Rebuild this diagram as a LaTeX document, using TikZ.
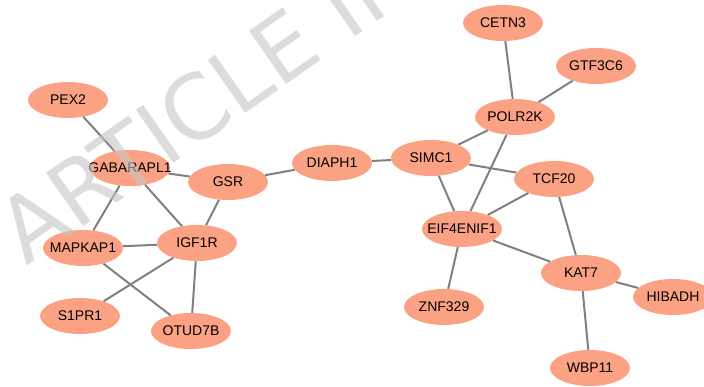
\documentclass[tikz,border=0pt]{standalone}
\usepackage{fontspec}
\setmainfont{Liberation Sans}
\newfontfamily\wmfont{DejaVu Sans}
\usetikzlibrary{shapes.geometric}
\definecolor{genefill}{RGB}{251,162,132}
\definecolor{edgegray}{RGB}{128,128,128}
\definecolor{wmgray}{RGB}{197,197,197}

\begin{document}
\begin{tikzpicture}[x=1pt, y=-1pt,
    gene/.style={ellipse, fill=genefill, minimum width=80pt, minimum height=36pt,
      inner sep=0pt, font=\fontsize{14}{16}\selectfont,
      execute at begin node={\hbox to 0pt\bgroup\hss},
      execute at end node={\hss\egroup}},
    link/.style={draw=edgegray, line width=2pt},
    wm/.style={text=wmgray, opacity=0.6, inner sep=0pt,
      font=\wmfont\fontsize{89}{89}\selectfont}]
    \useasboundingbox (0,0) rectangle (704,387);

    % left cluster
    \node[gene] (pex2) at (68,100) {PEX2};
    \node[gene] (gabarapl1) at (130,168) {GABARAPL1};
    \node[gene] (gsr) at (228,182) {GSR};
    \node[gene] (diaph1) at (332,163) {DIAPH1};
    \node[gene] (igf1r) at (197,243) {IGF1R};
    \node[gene] (mapkap1) at (83,248) {MAPKAP1};
    \node[gene] (s1pr1) at (80,316) {S1PR1};
    \node[gene] (otud7b) at (191,331) {OTUD7B};

    % right cluster
    \node[gene] (cetn3) at (503,23) {CETN3};
    \node[gene] (gtf3c6) at (596,66) {GTF3C6};
    \node[gene] (polr2k) at (515,117) {POLR2K};
    \node[gene] (simc1) at (431,158) {SIMC1};
    \node[gene] (tcf20) at (554,179) {TCF20};
    \node[gene] (eif4enif1) at (462,229) {EIF4ENIF1};
    \node[gene] (kat7) at (581,273) {KAT7};
    \node[gene] (hibadh) at (673,297) {HIBADH};
    \node[gene] (znf329) at (444,307) {ZNF329};
    \node[gene] (wbp11) at (590,368) {WBP11};

    \draw[link] (pex2) -- (gabarapl1);
    \draw[link] (gabarapl1) -- (gsr);
    \draw[link] (gabarapl1) -- (mapkap1);
    \draw[link] (gabarapl1) -- (igf1r);
    \draw[link] (gsr) -- (igf1r);
    \draw[link] (gsr) -- (diaph1);
    \draw[link] (diaph1) -- (simc1);
    \draw[link] (mapkap1) -- (igf1r);
    \draw[link] (mapkap1) -- (otud7b);
    \draw[link] (igf1r) -- (s1pr1);
    \draw[link] (igf1r) -- (otud7b);
    \draw[link] (cetn3) -- (polr2k);
    \draw[link] (gtf3c6) -- (polr2k);
    \draw[link] (polr2k) -- (simc1);
    \draw[link] (polr2k) -- (eif4enif1);
    \draw[link] (simc1) -- (tcf20);
    \draw[link] (simc1) -- (eif4enif1);
    \draw[link] (tcf20) -- (eif4enif1);
    \draw[link] (tcf20) -- (kat7);
    \draw[link] (eif4enif1) -- (kat7);
    \draw[link] (eif4enif1) -- (znf329);
    \draw[link] (kat7) -- (hibadh);
    \draw[link] (kat7) -- (wbp11);

    \node[wm, rotate=35] (stamp) at (207,101) {ARTICLE IN};
\end{tikzpicture}
\end{document}
